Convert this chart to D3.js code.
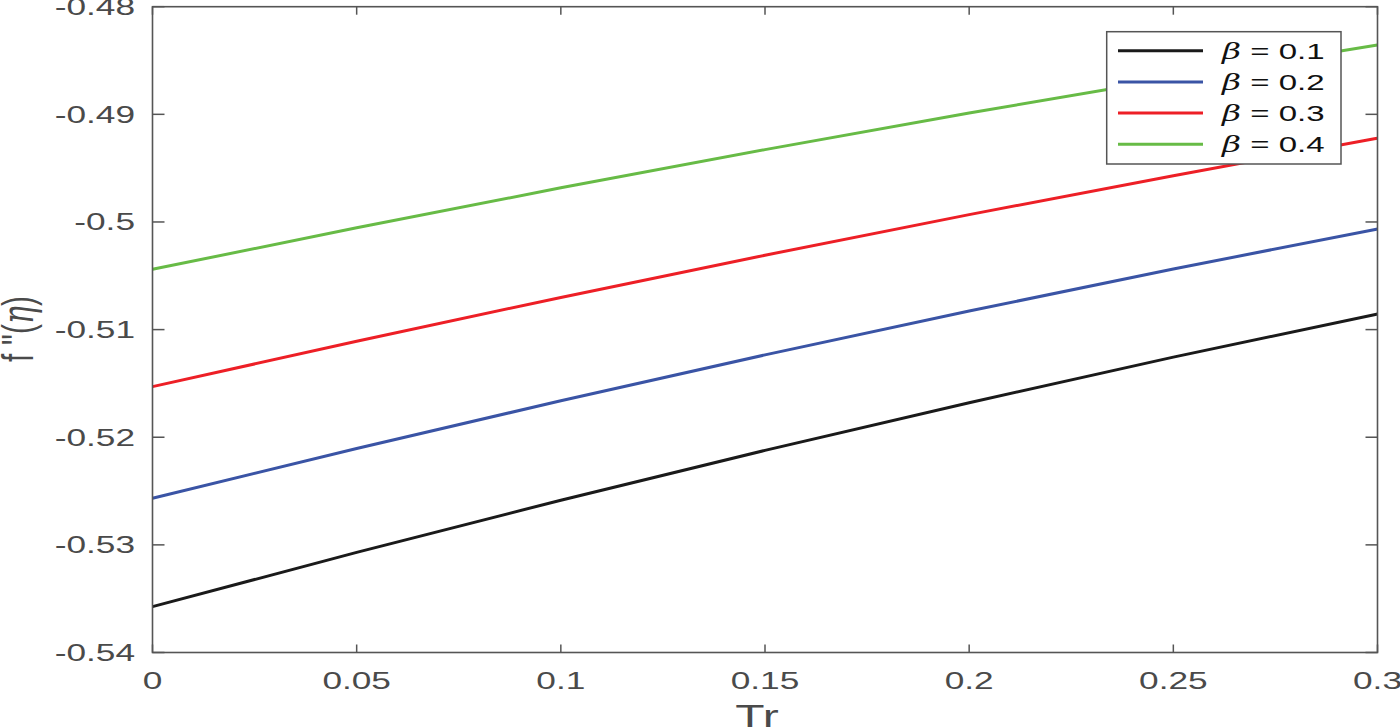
<!DOCTYPE html>
<html>
<head>
<meta charset="utf-8">
<script src="https://cdn.jsdelivr.net/npm/d3@7"></script>
<style>
html,body{margin:0;padding:0;background:#fff;}
svg{display:block;}
</style>
</head>
<body>
<svg id="chart" width="1400" height="727"></svg>
<script>
// ---- data ----
const trValues = [0, 0.05, 0.10, 0.15, 0.20, 0.25, 0.30];
const beta01 = [-0.53574, -0.53070, -0.52585, -0.52122, -0.51679, -0.51256, -0.50855];
const beta02 = [-0.52567, -0.52105, -0.51661, -0.51235, -0.50827, -0.50437, -0.50065];
const beta03 = [-0.51530, -0.51108, -0.50701, -0.50309, -0.49932, -0.49570, -0.49222];
const beta04 = [-0.50440, -0.50054, -0.49683, -0.49328, -0.48988, -0.48664, -0.48356];
const seriesLabels = ["0.1", "0.2", "0.3", "0.4"];
const seriesColors = ["#1a1a1a", "#3a54a5", "#ed1f26", "#67bb46"];
const xTicks = [0, 0.05, 0.1, 0.15, 0.2, 0.25, 0.3];
const xTickLabels = ["0", "0.05", "0.1", "0.15", "0.2", "0.25", "0.3"];
const yTicks = [-0.54, -0.53, -0.52, -0.51, -0.5, -0.49, -0.48];
const yTickLabels = ["-0.54", "-0.53", "-0.52", "-0.51", "-0.5", "-0.49", "-0.48"];

const series = [beta01, beta02, beta03, beta04];

// ---- layout ----
const L = 152.5, R = 1377.5, T = 6.7, B = 652.5;
const SX = 1.5; // horizontal stretch of text in reference
const axisColor = "#555";
const textColor = "#4a4a4a";
const font = "'Liberation Sans', Arial, Helvetica, sans-serif";

const svg = d3.select("#chart");
const x = d3.scaleLinear().domain([0, 0.3]).range([L, R]);
const y = d3.scaleLinear().domain([-0.54, -0.48]).range([B, T]);

function stretchedText(g, px, py, str, opts) {
  const t = g.append("text")
    .attr("transform", `translate(${px},${py}) scale(${SX},1)` + (opts.rotate ? ` rotate(${opts.rotate})` : ""))
    .attr("font-family", font)
    .attr("font-size", opts.size)
    .attr("fill", opts.fill || textColor)
    .attr("text-anchor", opts.anchor || "middle");
  if (opts.dy) t.attr("dy", opts.dy);
  if (str !== null) t.text(str);
  return t;
}

// lines
const line = d3.line()
  .x((d, i) => x(trValues[i]))
  .y(d => y(d))
  .curve(d3.curveMonotoneX);

const plot = svg.append("g");
series.forEach((s, k) => {
  plot.append("path")
    .datum(s)
    .attr("d", line)
    .attr("fill", "none")
    .attr("stroke", seriesColors[k])
    .attr("stroke-width", 3);
});

// axes box
const axes = svg.append("g");
axes.append("rect")
  .attr("x", L).attr("y", T).attr("width", R - L).attr("height", B - T)
  .attr("fill", "none").attr("stroke", axisColor).attr("stroke-width", 1.6);

// x ticks (bottom and top, inward)
xTicks.forEach((v, i) => {
  const px = x(v);
  axes.append("line").attr("x1", px).attr("x2", px).attr("y1", B).attr("y2", B - 8)
    .attr("stroke", axisColor).attr("stroke-width", 1.5);
  axes.append("line").attr("x1", px).attr("x2", px).attr("y1", T).attr("y2", T + 8)
    .attr("stroke", axisColor).attr("stroke-width", 1.5);
  stretchedText(axes, px, 689, xTickLabels[i], {size: 23.5});
});

// y ticks (left and right, inward)
yTicks.forEach((v, i) => {
  const py = y(v);
  axes.append("line").attr("x1", L).attr("x2", L + 12).attr("y1", py).attr("y2", py)
    .attr("stroke", axisColor).attr("stroke-width", 1.5);
  axes.append("line").attr("x1", R).attr("x2", R - 12).attr("y1", py).attr("y2", py)
    .attr("stroke", axisColor).attr("stroke-width", 1.5);
  stretchedText(axes, 135, py, yTickLabels[i], {size: 23.5, anchor: "end", dy: "0.36em"});
});

// axis labels
stretchedText(svg, 757, 727, "Tr", {size: 32});
const yl = stretchedText(svg, 20, 329, null, {size: 30, rotate: -90, dy: "0.28em"});
yl.append("tspan").text("f ''(");
yl.append("tspan").attr("font-style", "italic").attr("font-family", "'DejaVu Serif', 'Liberation Serif', serif").text("η");
yl.append("tspan").text(")");

// legend
const lg = svg.append("g");
const lx0 = 1106.7, ly0 = 31.7, lw = 234.3, lh = 132.3;
lg.append("rect").attr("x", lx0).attr("y", ly0).attr("width", lw).attr("height", lh)
  .attr("fill", "#fff").attr("stroke", axisColor).attr("stroke-width", 1.5);
const rowY = d3.scalePoint().domain(seriesLabels).range([50.7, 144.3]);
seriesLabels.forEach((lab, k) => {
  const ry = rowY(lab);
  lg.append("line").attr("x1", 1118).attr("x2", 1203).attr("y1", ry).attr("y2", ry)
    .attr("stroke", seriesColors[k]).attr("stroke-width", 3);
  const t = stretchedText(lg, 1222, ry, null, {size: 22, anchor: "start", fill: "#111", dy: "0.36em"});
  t.append("tspan").attr("font-style", "italic").attr("font-family", "'DejaVu Serif', 'Liberation Serif', serif").text("β");
  t.append("tspan").text(" = " + lab);
});
</script>
</body>
</html>
